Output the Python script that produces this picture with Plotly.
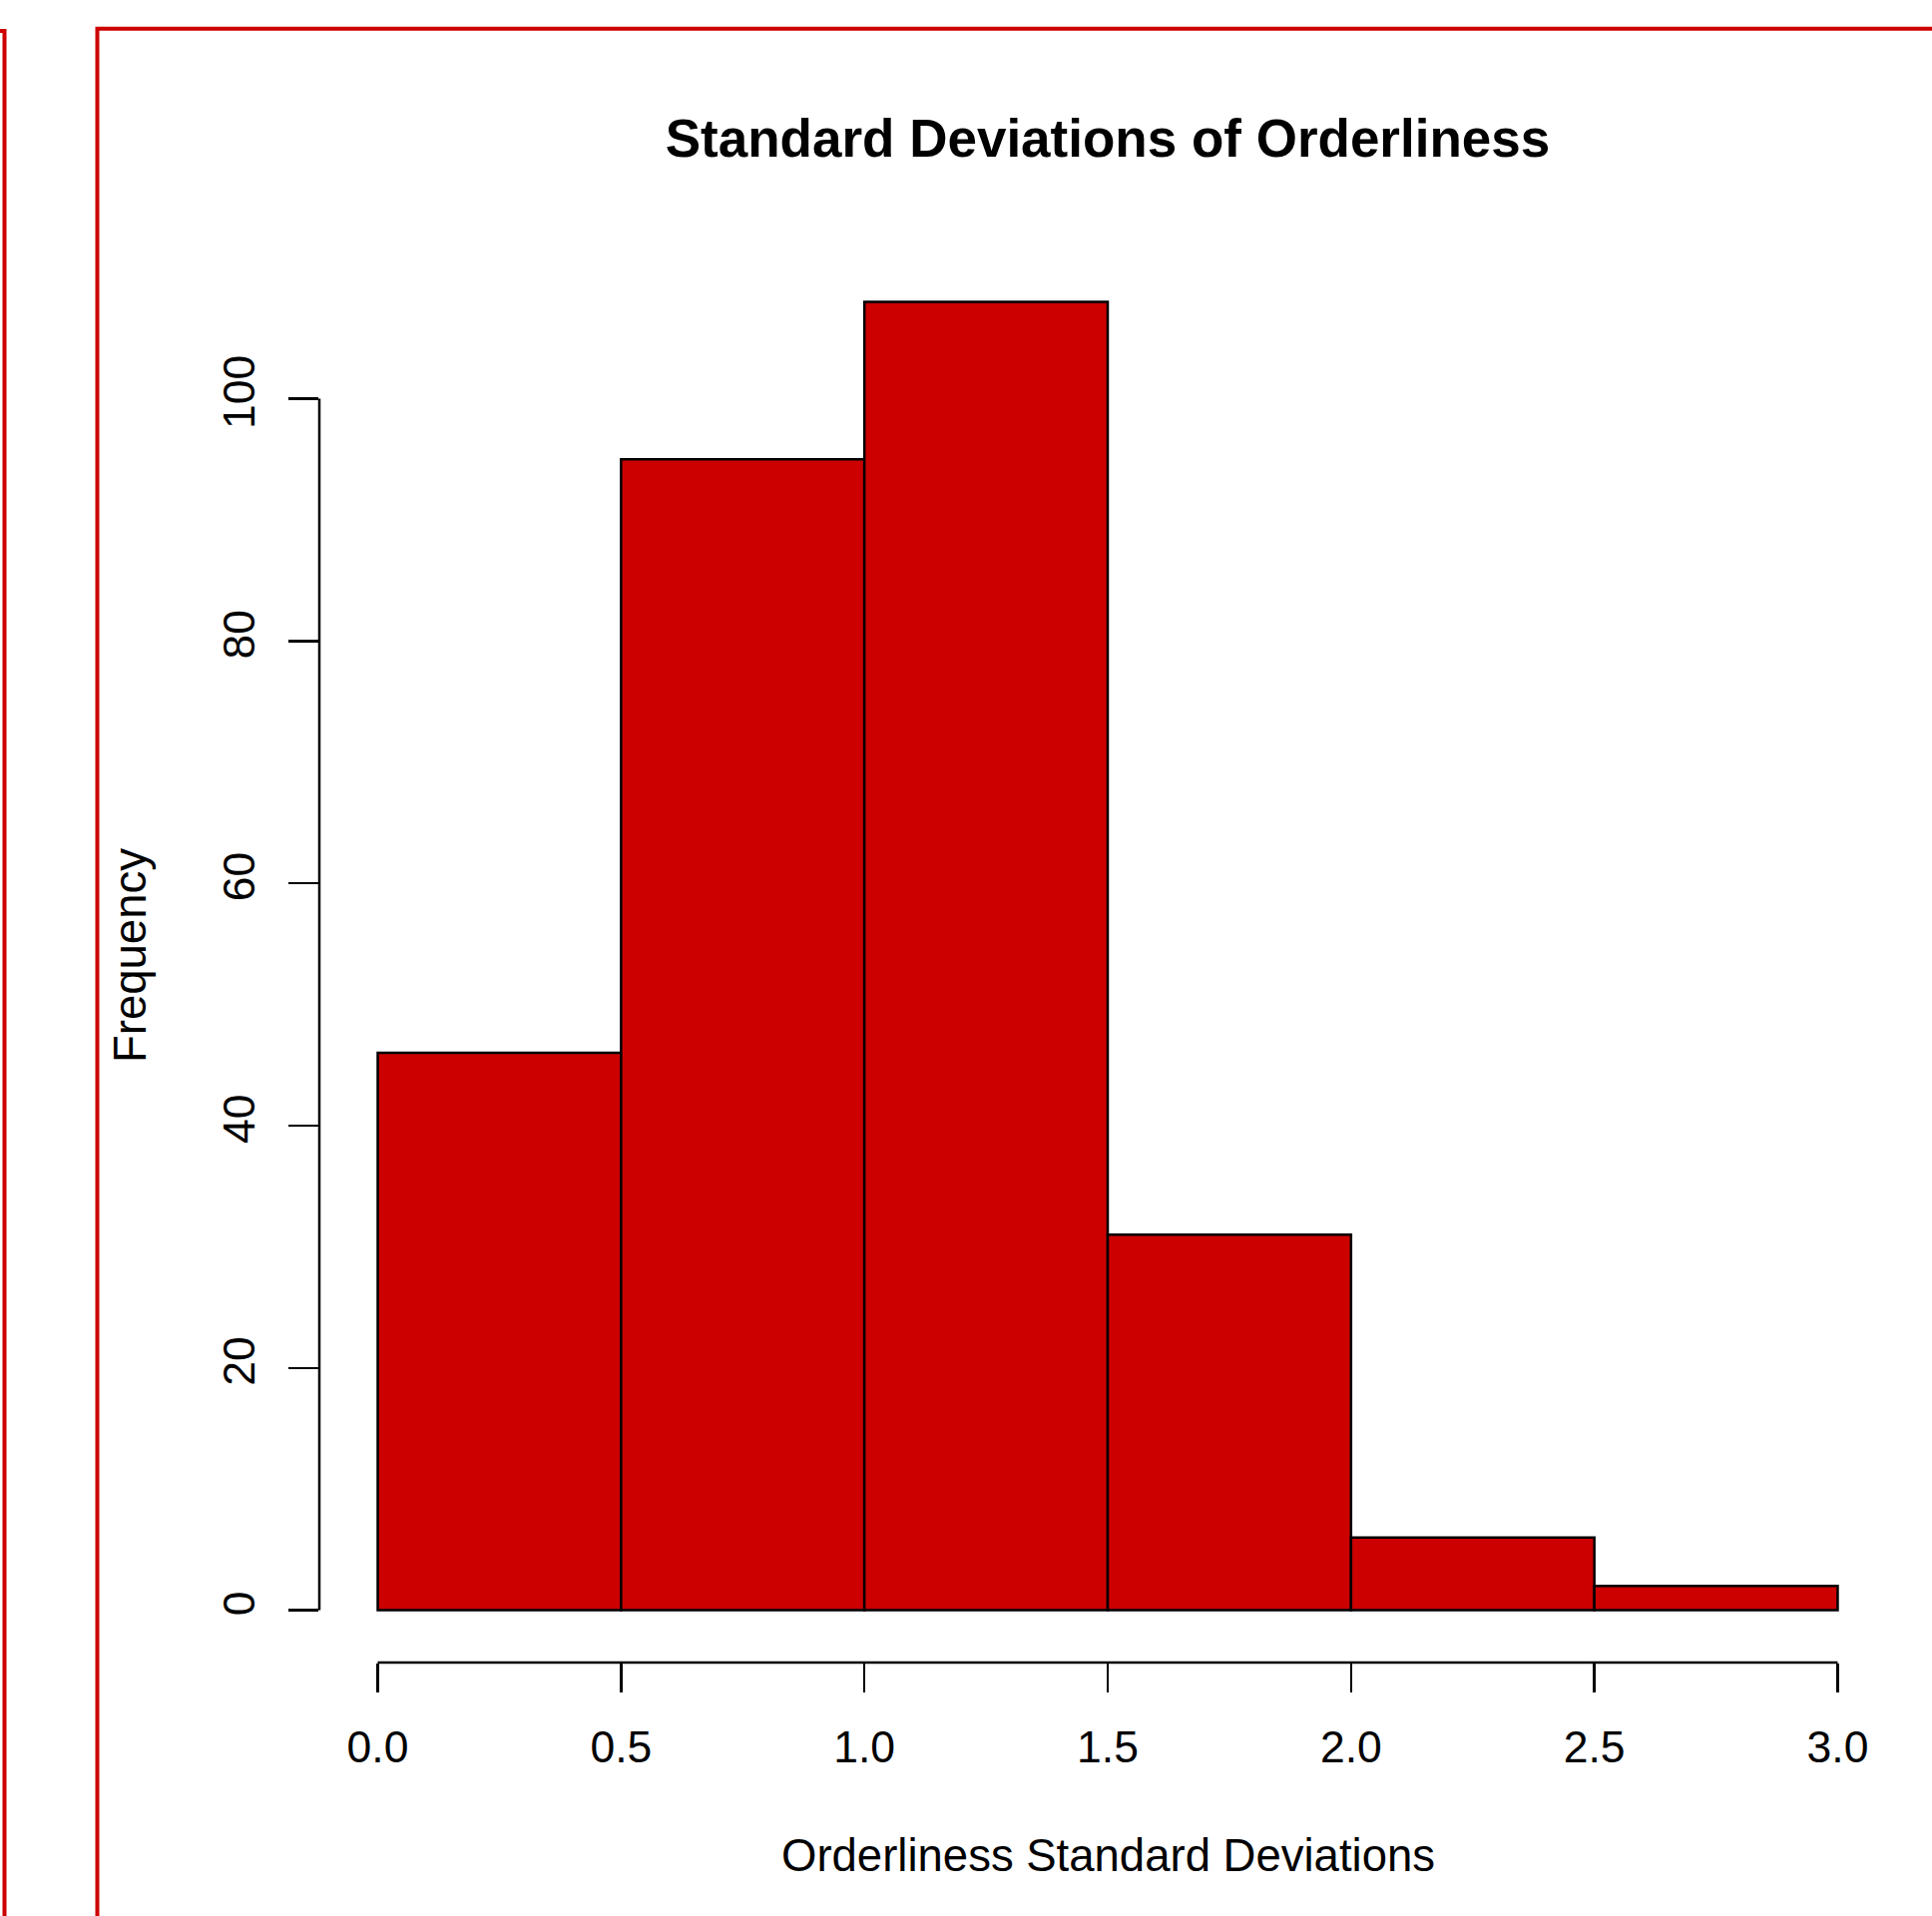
import plotly.graph_objects as go

# ---- data ----
bin_edges = [0.0, 0.5, 1.0, 1.5, 2.0, 2.5, 3.0]
counts = [46, 95, 108, 31, 6, 2]
x_ticks = [0.0, 0.5, 1.0, 1.5, 2.0, 2.5, 3.0]
x_tick_labels = ["0.0", "0.5", "1.0", "1.5", "2.0", "2.5", "3.0"]
y_ticks = [0, 20, 40, 60, 80, 100]
y_tick_labels = ["0", "20", "40", "60", "80", "100"]
title_text = "Standard Deviations of Orderliness"
x_title = "Orderliness Standard Deviations"
y_title = "Frequency"

# ---- layout constants (pixels) ----
W, H = 1936, 1920
PL, PR, PT, PB = 320, 1900, 250, 1666
FILL = "#CD0000"
FONT = "Liberation Sans, Arial, Helvetica, sans-serif"
LW = 2.5

mids = [(a + b) / 2 for a, b in zip(bin_edges[:-1], bin_edges[1:])]
widths = [b - a for a, b in zip(bin_edges[:-1], bin_edges[1:])]

fig = go.Figure(go.Bar(
    x=mids, y=counts, width=widths,
    marker=dict(color=FILL, line=dict(color="black", width=LW)),
    hoverinfo="skip",
))

xr = [bin_edges[0] - 0.04 * (bin_edges[-1] - bin_edges[0]),
      bin_edges[-1] + 0.04 * (bin_edges[-1] - bin_edges[0])]
ymax = max(counts)
yr = [-0.04 * ymax, ymax * 1.04]

pw = PR - PL
ph = PB - PT

fig.update_layout(
    width=W, height=H,
    margin=dict(l=PL, r=W - PR, t=PT, b=H - PB, pad=0),
    paper_bgcolor="white", plot_bgcolor="white",
    showlegend=False,
    font=dict(family=FONT, size=44, color="black"),
    xaxis=dict(range=xr, tickvals=x_ticks, ticktext=x_tick_labels,
               ticks="outside", ticklen=29, tickwidth=LW, tickcolor="black",
               showline=False, showgrid=False, zeroline=False,
               tickfont=dict(size=44.5), ticklabelstandoff=17),
    yaxis=dict(range=yr, tickvals=y_ticks, ticktext=y_tick_labels,
               ticks="outside", ticklen=30, tickwidth=LW, tickcolor="black",
               showline=False, showgrid=False, zeroline=False,
               tickangle=-90, tickfont=dict(size=44.5), ticklabelstandoff=16),
    title=dict(text="<b>" + title_text + "</b>", x=0.5, xref="paper",
               y=1 - 138.5 / H, yref="container", yanchor="middle", xanchor="center",
               font=dict(size=53, family=FONT, color="black")),
    annotations=[
        dict(text=x_title, xref="paper", yref="paper", x=0.5,
             y=-(1859 - PB) / ph, xanchor="center", yanchor="middle",
             showarrow=False, font=dict(size=45.5)),
        dict(text=y_title, xref="paper", yref="paper", x=-(PL - 130) / pw,
             y=0.5, xanchor="center", yanchor="middle", textangle=-90,
             showarrow=False, font=dict(size=45.5)),
    ],
    shapes=[
        # x axis line spanning ticks
        dict(type="line", xref="x", yref="paper", x0=x_ticks[0], x1=x_ticks[-1],
             y0=0, y1=0, line=dict(color="black", width=LW)),
        # y axis line spanning ticks
        dict(type="line", xref="paper", yref="y", x0=0, x1=0,
             y0=y_ticks[0], y1=y_ticks[-1], line=dict(color="black", width=LW)),
        # red frame of this panel
        dict(type="rect", xref="paper", yref="paper", xsizemode="pixel", ysizemode="pixel",
             xanchor=0, yanchor=1, x0=97.5 - PL, x1=W + 20 - PL,
             y0=PT - 28.7, y1=PT - H - 20,
             line=dict(color=FILL, width=4), fillcolor="rgba(0,0,0,0)"),
        # neighbouring panel frame (clipped at the left)
        dict(type="rect", xref="paper", yref="paper", xsizemode="pixel", ysizemode="pixel",
             xanchor=0, yanchor=1, x0=-60 - PL, x1=4.5 - PL,
             y0=PT - 31, y1=PT - H - 20,
             line=dict(color=FILL, width=4), fillcolor="rgba(0,0,0,0)"),
    ],
)

fig.write_html("out.html", config={"displayModeBar": False, "staticPlot": True})

# remove the default page margin so the figure sits at the window's origin
with open("out.html", "r", encoding="utf-8") as f:
    html = f.read()
html = html.replace("<body>", '<body style="margin:0;padding:0;overflow:hidden">', 1)
html = html.replace("<head>", "<head><style>html,body{margin:0;padding:0;}</style>", 1)
with open("out.html", "w", encoding="utf-8") as f:
    f.write(html)
